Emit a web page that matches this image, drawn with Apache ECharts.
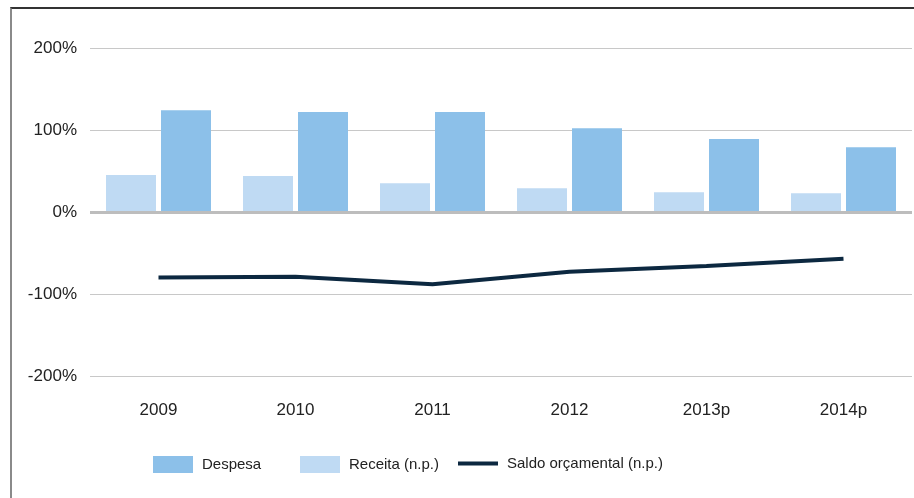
<!DOCTYPE html>
<html>
<head>
<meta charset="utf-8">
<script src="https://cdn.jsdelivr.net/npm/echarts@6/dist/echarts.min.js"></script>
<style>
  html, body { margin: 0; padding: 0; background: #fff; }
  #frame { position: absolute; left: 10px; top: 7px; width: 904px; height: 491px; box-sizing: border-box;
           border-top: 2px solid #333; border-left: 2px solid #8a8a8a; }
  #main { position: absolute; left: 0; top: 0; width: 914px; height: 498px; }
</style>
</head>
<body>
<div id="frame"></div>
<div id="main"></div>
<script>
// dados do gráfico (% )
var anos = ['2009', '2010', '2011', '2012', '2013p', '2014p'];
var despesa = [124, 122, 122, 102, 89, 79];
var receita = [45, 44, 35, 29, 24, 23];
var saldo = [-80, -79, -88, -73, -66, -57];
var yTicks = [-200, -100, 0, 100, 200];

var myChart = echarts.init(document.getElementById('main'));

var fonte = 'Liberation Sans, Arial, sans-serif';
var legendaBase = {
  top: 451,
  itemWidth: 40,
  itemHeight: 17,
  icon: 'rect',
  textStyle: { fontFamily: fonte, fontSize: 15, color: '#222', padding: [0, 0, 0, 4] }
};

var option = {
  animation: false,
  grid: { left: 90, right: 2, top: 48, bottom: 122 },
  legend: [
    Object.assign({}, legendaBase, { left: 148, data: ['Despesa'] }),
    Object.assign({}, legendaBase, { left: 295, data: ['Receita (n.p.)'] }),
    Object.assign({}, legendaBase, { left: 453, itemHeight: 4, data: ['Saldo orçamental (n.p.)'] })
  ],
  xAxis: {
    type: 'category',
    data: anos,
    axisLine: { show: false, onZero: false },
    axisTick: { show: false },
    axisLabel: { margin: 26, color: '#222', fontFamily: fonte, fontSize: 17 }
  },
  yAxis: {
    type: 'value',
    min: yTicks[0],
    max: yTicks[yTicks.length - 1],
    interval: 100,
    axisLine: { show: false },
    axisTick: { show: false },
    axisLabel: { formatter: '{value}%', margin: 13, color: '#222', fontFamily: fonte, fontSize: 17 },
    splitLine: { lineStyle: { color: '#c8c8c8', width: 1 } }
  },
  series: [
    {
      name: 'Receita (n.p.)',
      type: 'bar',
      data: receita,
      barWidth: 50,
      barGap: '10%',
      itemStyle: { color: '#bfdaf3' },
      markLine: {
        silent: true,
        symbol: 'none',
        label: { show: false },
        lineStyle: { color: '#bdbdbd', width: 3, type: 'solid' },
        data: [{ yAxis: 0 }]
      }
    },
    {
      name: 'Despesa',
      type: 'bar',
      data: despesa,
      barWidth: 50,
      barGap: '10%',
      itemStyle: { color: '#8cc0e9' }
    },
    {
      name: 'Saldo orçamental (n.p.)',
      type: 'line',
      data: saldo,
      symbol: 'none',
      itemStyle: { color: '#0c2840' },
      lineStyle: { color: '#0c2840', width: 4 }
    }
  ]
};

myChart.setOption(option);
</script>
</body>
</html>
